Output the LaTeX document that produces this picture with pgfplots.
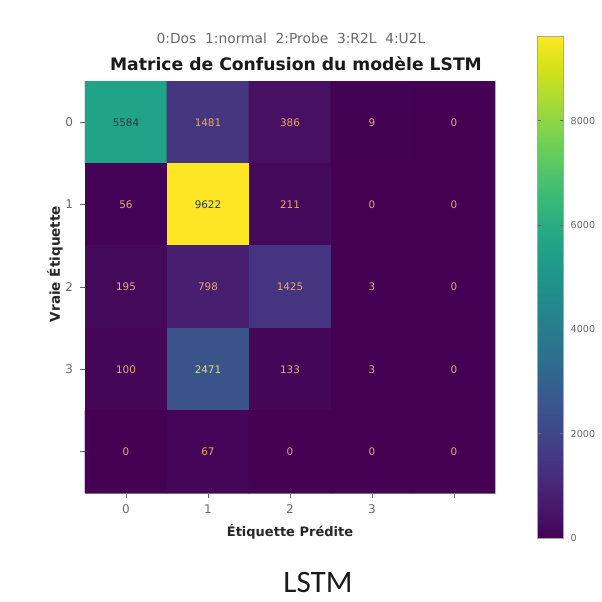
\documentclass[border=0pt]{standalone}
\usepackage{pgfplots}
\pgfplotsset{compat=1.18}
\usetikzlibrary{calc}
\usepackage{fontspec}
\setmainfont{DejaVu Sans}
\newfontfamily\carlito{Carlito}
\definecolor{tickgray}{RGB}{105,105,105}
\definecolor{celltxt}{RGB}{232,168,110}
\definecolor{darktxt}{RGB}{45,60,70}
\begin{document}
\begin{tikzpicture}
\begin{axis}[
  name=cm,
  at={(0,0)}, anchor=south west,
  scale only axis, width=205pt, height=206pt,
  xmin=-0.5, xmax=4.5, ymin=-0.5, ymax=4.5, y dir=reverse,
  xtick={0,1,2,3,4}, xticklabels={0,1,2,3,{}},
  ytick={0,1,2,3,4}, yticklabels={0,1,2,3,{}},
  tick align=outside, major tick length=2.5pt,
  tick style={tickgray, line width=0.4pt},
  xtick pos=bottom, ytick pos=left,
  ticklabel style={font=\fontsize{6}{7}\selectfont, text=tickgray},
  /pgf/number format/assume math mode=true,
  axis line style={gray!60, line width=0.4pt},
  colormap/viridis, point meta min=0, point meta max=9622,
  colorbar,
  colorbar style={
    at={($(parent axis.south east)+(12.5pt,-22.5pt)$)}, anchor=south west,
    scale only axis, width=13.3pt, height=251pt,
    ytick={0,2000,4000,6000,8000},
    yticklabel style={font=\fontsize{4.8}{5}\selectfont, text=tickgray,
      /pgf/number format/1000 sep={}, /pgf/number format/assume math mode=true},
    tick style={tickgray, line width=0.4pt}, major tick length=2pt,
    axis line style={gray!70, line width=0.4pt},
  },
]
\addplot [matrix plot*, mesh/cols=5, point meta=explicit] table [meta=c] {
x y c
0 0 5584
1 0 1481
2 0 386
3 0 9
4 0 0
0 1 56
1 1 9622
2 1 211
3 1 0
4 1 0
0 2 195
1 2 798
2 2 1425
3 2 3
4 2 0
0 3 100
1 3 2471
2 3 133
3 3 3
4 3 0
0 4 0
1 4 67
2 4 0
3 4 0
4 4 0
};
\addplot [only marks, mark=none, nodes near coords, point meta=explicit symbolic,
  nodes near coords align={center},
  every node near coord/.style={font=\fontsize{5.2}{6}\selectfont, text=celltxt}]
  table [meta=c] {
x y c
1 0 1481
2 0 386
3 0 9
4 0 0
0 1 56
2 1 211
3 1 0
4 1 0
0 2 195
1 2 798
2 2 1425
3 2 3
4 2 0
0 3 100
2 3 133
3 3 3
4 3 0
0 4 0
1 4 67
2 4 0
3 4 0
4 4 0
};
\addplot [only marks, mark=none, nodes near coords, point meta=explicit symbolic,
  nodes near coords align={center},
  every node near coord/.style={font=\fontsize{5.2}{6}\selectfont, text=darktxt}]
  table [meta=c] {
x y c
0 0 5584
1 1 9622
};
\addplot [only marks, mark=none, nodes near coords, point meta=explicit symbolic,
  nodes near coords align={center},
  every node near coord/.style={font=\fontsize{5.2}{6}\selectfont, text={rgb,255:red,215;green,225;blue,120}}]
  table [meta=c] {
x y c
1 3 2471
};
\end{axis}
% bounding box matching the reference frame
\path ($(cm.south west)+(-42.5pt,-54.5pt)$) rectangle ($(cm.south west)+(251.5pt,246.5pt)$);
\node[font=\fontsize{6.9}{8}\selectfont, text=tickgray, anchor=center]
  at ($(cm.south west)+(103pt,227.5pt)$) {0:Dos\ \ 1:normal\ \ 2:Probe\ \ 3:R2L\ \ 4:U2L};
\node[font=\bfseries\fontsize{8.6}{10}\selectfont, text=black!90, anchor=center]
  at ($(cm.south west)+(105.5pt,214.5pt)$) {Matrice de Confusion du modèle LSTM};
\node[font=\bfseries\fontsize{6.5}{8}\selectfont, text=black!85, anchor=center]
  at ($(cm.south west)+(102.5pt,-19.5pt)$) {Étiquette Prédite};
\node[font=\bfseries\fontsize{6.8}{8}\selectfont, text=black!85, anchor=center, rotate=90]
  at ($(cm.south west)+(-15pt,114.5pt)$) {Vraie Étiquette};
\node[font=\carlito\fontsize{15.6}{17}\selectfont, text=black!90, anchor=center]
  at ($(cm.south west)+(116.5pt,-44.5pt)$) {LSTM};
\end{tikzpicture}
\end{document}
